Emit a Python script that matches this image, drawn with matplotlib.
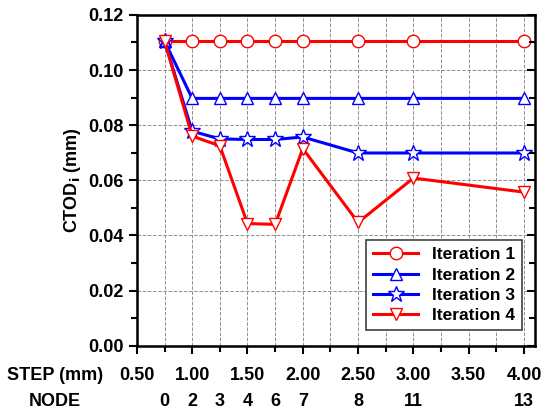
import matplotlib
matplotlib.use("Agg")
import matplotlib.pyplot as plt
import matplotlib.transforms as mtransforms
from matplotlib.ticker import MultipleLocator

plt.rcParams['font.family'] = ['Liberation Sans', 'DejaVu Sans']
plt.rcParams['font.weight'] = 'bold'

# data
step = [0.75, 1.00, 1.25, 1.50, 1.75, 2.00, 2.50, 3.00, 4.00]
node = ['0', '2', '3', '4', '6', '7', '8', '11', '13']
iter1 = [0.1105, 0.1105, 0.1105, 0.1105, 0.1105, 0.1105, 0.1105, 0.1105, 0.1105]
iter2 = [0.1105, 0.0897, 0.0897, 0.0897, 0.0897, 0.0897, 0.0897, 0.0897, 0.0897]
iter3 = [0.1105, 0.0778, 0.0750, 0.0748, 0.0748, 0.0757, 0.0699, 0.0699, 0.0699]
iter4 = [0.1105, 0.0760, 0.0725, 0.0443, 0.0440, 0.0715, 0.0447, 0.0608, 0.0557]

fig = plt.figure(figsize=(5.41, 4.13), dpi=100)
ax = fig.add_axes([0.253, 0.163, 0.736, 0.801])

style = dict(lw=2.2, markersize=9, markerfacecolor='white', markeredgewidth=1.0)
ax.plot(step, iter1, color='red', marker='o', label='Iteration 1', **style)
ax.plot(step, iter2, color='blue', marker='^', label='Iteration 2', **style)
ax.plot(step, iter3, color='blue', marker='*', label='Iteration 3', lw=2.2,
        markersize=12, markerfacecolor='white', markeredgewidth=1.0)
ax.plot(step, iter4, color='red', marker='v', label='Iteration 4', **style)

ax.set_xlim(0.5, 4.1)
ax.set_ylim(0, 0.12)
ax.xaxis.set_major_locator(MultipleLocator(0.5))
ax.xaxis.set_minor_locator(MultipleLocator(0.25))
ax.yaxis.set_major_locator(MultipleLocator(0.02))
ax.yaxis.set_minor_locator(MultipleLocator(0.01))
ax.xaxis.set_major_formatter(plt.FuncFormatter(lambda v, p: '%.2f' % v))
ax.yaxis.set_major_formatter(plt.FuncFormatter(lambda v, p: '%.2f' % v))

ax.grid(True, which='both', axis='x', ls='--', color='#909090', lw=0.7)
ax.grid(True, which='major', axis='y', ls='--', color='#909090', lw=0.7)
ax.set_axisbelow(True)

ax.tick_params(axis='both', which='major', direction='out', length=6, width=1.5,
               labelsize=13)
ax.tick_params(axis='both', which='minor', direction='out', length=4, width=1.5)
ax.tick_params(axis='x', pad=9)
for s in ax.spines.values():
    s.set_linewidth(1.8)

# right-hand inward ticks
ax2 = ax.twinx()
ax2.set_ylim(ax.get_ylim())
ax2.yaxis.set_major_locator(MultipleLocator(0.02))
ax2.yaxis.set_minor_locator(MultipleLocator(0.01))
ax2.tick_params(axis='y', which='both', direction='in', width=1.5, labelright=False)
ax2.tick_params(axis='y', which='major', length=6)
ax2.tick_params(axis='y', which='minor', length=4)

ax.set_ylabel('CTOD$_\\mathbf{i}$ (mm)', fontsize=13, fontweight='bold', labelpad=4)

trans = mtransforms.blended_transform_factory(ax.transData, ax.transAxes)
for x, lab in zip(step, node):
    ax.text(x, -0.17, lab, transform=trans, ha='center', va='center',
            fontsize=13, fontweight='bold')
fig.text(0.102, 0.092, 'STEP (mm)', ha='center', va='center', fontsize=13, fontweight='bold')
fig.text(0.102, 0.027, 'NODE', ha='center', va='center', fontsize=13, fontweight='bold')

leg = ax.legend(loc='lower right', bbox_to_anchor=(0.99, 0.02), fontsize=12.5,
                fancybox=False, edgecolor='#404040', framealpha=1,
                handlelength=2.6, borderpad=0.4, labelspacing=0.3)
leg.get_frame().set_linewidth(1.2)

fig.savefig('out.png', dpi=100)
